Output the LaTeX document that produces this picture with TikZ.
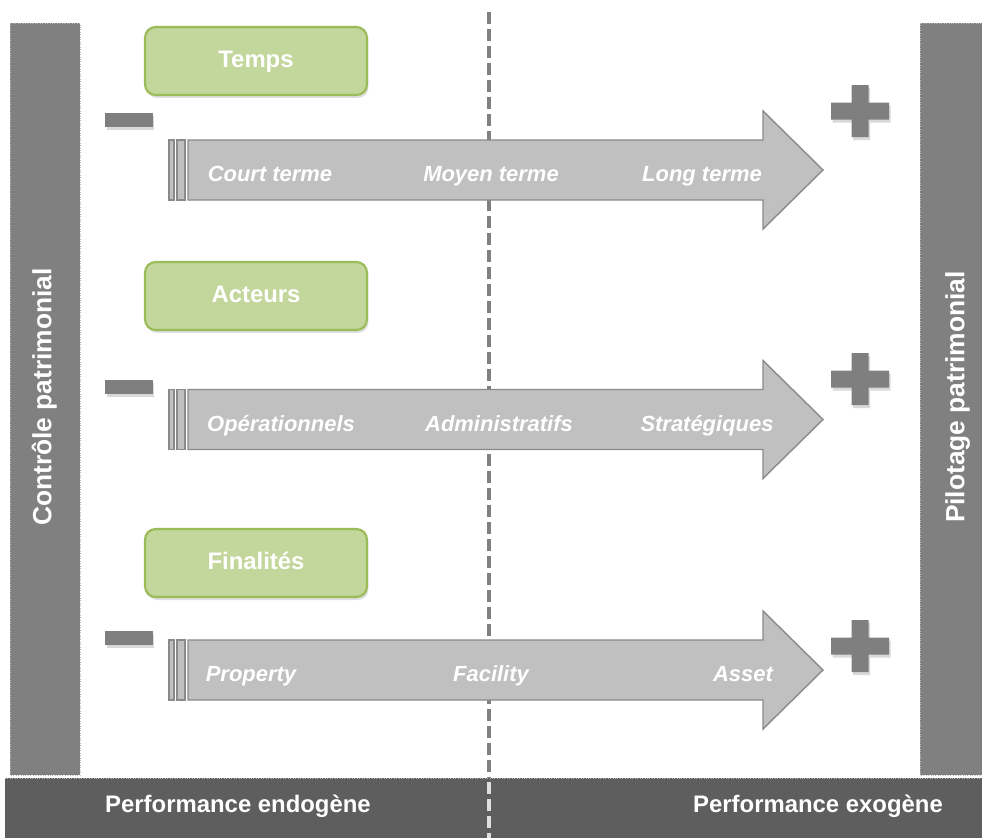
\documentclass[tikz,border=0pt]{standalone}
\usepackage{fontspec}
\setmainfont{Liberation Sans}
\usetikzlibrary{shadows}

\definecolor{sidegray}{HTML}{808080}
\definecolor{bandgray}{HTML}{5E5E5E}
\definecolor{arrowfill}{HTML}{C0C0C0}
\definecolor{arrowline}{HTML}{8A8A8A}
\definecolor{themefill}{HTML}{C3D69B}
\definecolor{themeline}{HTML}{9BBB59}
\definecolor{signgray}{HTML}{7F7F7F}

\tikzset{
   sidebar/.style={fill=sidegray, draw=gray!55, densely dotted, line width=0.4pt},
   theme/.style={draw=themeline, fill=themefill, line width=1.2pt, rounded corners=6pt,
      minimum width=4.44cm, minimum height=1.36cm, text=white,
      font=\bfseries\fontsize{13.6}{16}\selectfont, text height=0.72em, text depth=0pt,
      drop shadow={opacity=0.25, shadow xshift=0.03cm, shadow yshift=-0.06cm}},
   arrowbody/.style={fill=arrowfill, draw=arrowline, line width=0.8pt},
   steplabel/.style={anchor=base, text=white, font=\bfseries\itshape\fontsize{12.5}{15}\selectfont},
   sign/.style={fill=signgray, drop shadow={opacity=0.3, shadow xshift=0.03cm, shadow yshift=-0.06cm}},
   sidelabel/.style={rotate=90, text=white, font=\bfseries\fontsize{15}{18}\selectfont,
      text height=0.72em, text depth=0pt},
   bandlabel/.style={text=white, font=\bfseries\fontsize{13.6}{16}\selectfont,
      text height=0.72em, text depth=0pt}
}

\begin{document}
\begin{tikzpicture}[x=0.02cm, y=-0.02cm]
   \useasboundingbox (0,0) rectangle (982,838);

   % side bars and bottom band
   \path[sidebar] (10,23) rectangle (80,775);
   \path[sidebar] (920,23) rectangle (982,775);
   \fill[bandgray] (5,778) rectangle (982,838);
   \draw[gray!55, densely dotted, line width=0.4pt] (5,778) -- (982,778);
   \node[sidelabel] (controle) at (45,397) {Contrôle patrimonial};
   \node[sidelabel] (pilotage) at (958,397) {Pilotage patrimonial};
   \node[bandlabel] (endo) at (238,806) {Performance endogène};
   \node[bandlabel] (exo) at (818,806) {Performance exogène};

   % separator
   \draw[sidegray, line width=2.3pt, dash pattern=on 0.24cm off 0.1cm] (489,12) -- (489,778);
   \draw[gray!25, line width=2.3pt, dash pattern=on 0.24cm off 0.1cm] (489,782) -- (489,838);

   % rows: index / theme y / minus y / arrow y / plus y / theme
   \def \Rows {
      1/61/120/170/111/Temps,
      2/296/387/419.5/379/Acteurs,
      3/563/637.5/670/646/Finalités}
   \foreach \i / \yt / \ym / \ya / \yp / \name in \Rows {
      \path[arrowbody] (169,\ya-30) rectangle (174,\ya+30);
      \path[arrowbody] (177,\ya-30) rectangle (185,\ya+30);
      \path[arrowbody] (188,\ya-30) -- (763,\ya-30) -- (763,\ya-59) -- (823,\ya)
         -- (763,\ya+59) -- (763,\ya+30) -- (188,\ya+30) -- cycle;
      \node[theme] (theme\i) at (256,\yt) {\name};
      \node[sign, minimum width=0.96cm, minimum height=0.28cm, inner sep=0pt] (minus\i) at (129,\ym) {};
      \begin{scope}[shift={(860,\yp)}]
         \path[sign] (-8.5,-26) -- (8.5,-26) -- (8.5,-8.5) -- (29,-8.5) -- (29,8.5) -- (8.5,8.5)
            -- (8.5,26) -- (-8.5,26) -- (-8.5,8.5) -- (-29,8.5) -- (-29,-8.5) -- (-8.5,-8.5) -- cycle;
      \end{scope}
   }

   % arrow labels: x / baseline y / text
   \def \Steps {
      270/181/Court terme, 491/181/Moyen terme, 702/181/Long terme,
      281/431/Opérationnels, 499/431/Administratifs, 707/431/Stratégiques,
      251/681/Property, 491/681/Facility, 743/681/Asset}
   \foreach \x / \y / \txt in \Steps {
      \node[steplabel] at (\x,\y) {\txt};
   }
\end{tikzpicture}
\end{document}
